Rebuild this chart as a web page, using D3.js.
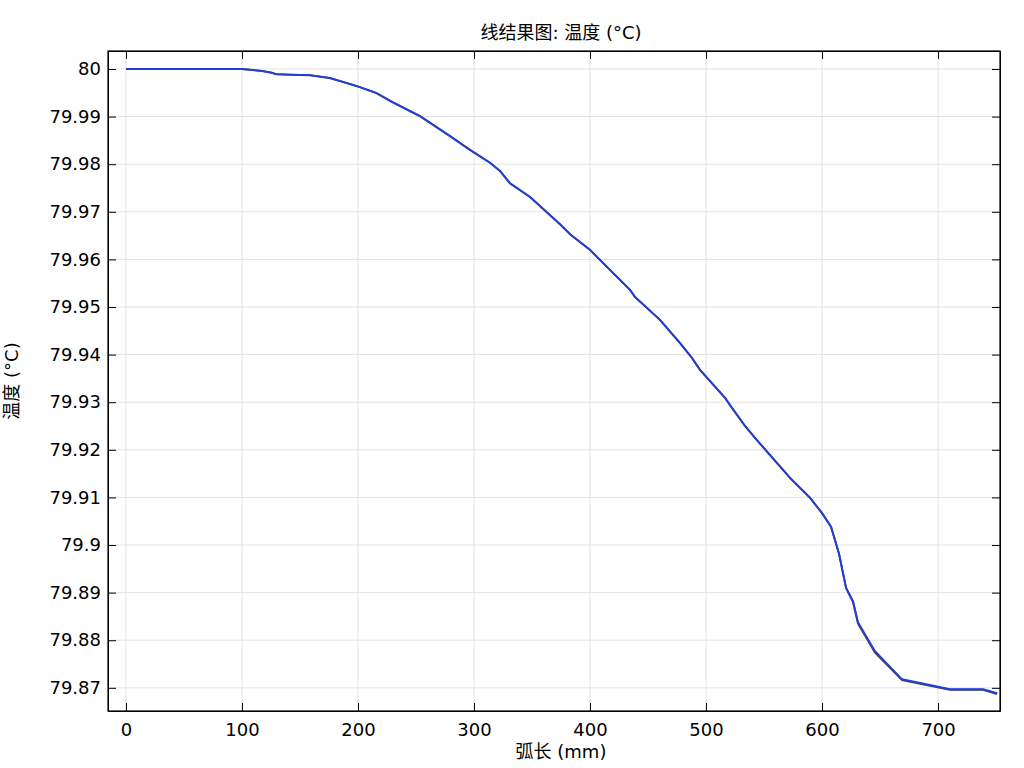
<!DOCTYPE html>
<html>
<head>
<meta charset="utf-8">
<script src="https://cdn.jsdelivr.net/npm/d3@7"></script>
<style>
  body { margin: 0; background: #fff; }
  svg text { font-family: "DejaVu Sans", "Noto Sans CJK SC", sans-serif; fill: #000; }
  .grid line { stroke: #e3e3e3; }
  .axis path, .axis line { stroke: #000; }
</style>
</head>
<body>
<div id="chart"></div>
<script>
// arc length (mm) and temperature (degC)
var arcLen = [0, 100, 108.6, 117.2, 125.9, 129.3, 141.4, 158.6, 175.9, 199.1, 215.5, 229.3,
  253.4, 279.3, 296.6, 313.8, 322.4, 331.0, 348.3, 356.9, 374.1, 382.8, 400.0, 417.2,
  434.5, 438.8, 460.3, 477.6, 487.9, 494.8, 516.4, 522.4, 533.6, 542.2, 555.2, 572.4,
  589.7, 600.0, 607.8, 614.7, 620.7, 626.7, 631.0, 645.7, 669.0, 710.3, 738.8, 750.9];
var tempBlue = [80, 80, 79.9998, 79.9996, 79.9992, 79.9989, 79.9988, 79.9987, 79.9981, 79.9964,
  79.9950, 79.9931, 79.9901, 79.9859, 79.9830, 79.9803, 79.9786, 79.9760, 79.9731, 79.9712,
  79.9674, 79.9653, 79.9620, 79.9578, 79.9536, 79.9521, 79.9473, 79.9424, 79.9393, 79.9368,
  79.9309, 79.9288, 79.9250, 79.9225, 79.9189, 79.9141, 79.9099, 79.9067, 79.9038, 79.8981,
  79.8910, 79.8882, 79.8838, 79.8777, 79.8718, 79.8697, 79.8697, 79.8689];
var tempGray = [80, 80, 79.9998, 79.9996, 79.9992, 79.9989, 79.9988, 79.9987, 79.9981, 79.9964,
  79.9950, 79.9931, 79.9901, 79.9859, 79.9830, 79.9803, 79.9786, 79.9760, 79.9731, 79.9712,
  79.9674, 79.9653, 79.9620, 79.9578, 79.9536, 79.9521, 79.9473, 79.9424, 79.9393, 79.9368,
  79.9309, 79.9288, 79.9250, 79.9225, 79.9189, 79.9141, 79.9099, 79.9067, 79.9038, 79.8981,
  79.8910, 79.8880, 79.8835, 79.8774, 79.8716, 79.8696, 79.8696, 79.8687];
var xTicks = [0, 100, 200, 300, 400, 500, 600, 700];
var yTicks = [80, 79.99, 79.98, 79.97, 79.96, 79.95, 79.94, 79.93, 79.92, 79.91, 79.9, 79.89, 79.88, 79.87];

var width = 1024, height = 768;
var plotL = 108, plotR = 1000, plotT = 51, plotB = 711;

var svg = d3.select("#chart").append("svg")
  .attr("width", width)
  .attr("height", height);

var x = d3.scaleLinear().domain([-15.5, 753.4]).range([plotL, plotR]);
var y = d3.scaleLinear().domain([79.86513, 80.00378]).range([plotB, plotT]);

// grid
var grid = svg.append("g").attr("class", "grid");
grid.selectAll(".gx").data(xTicks).enter().append("line")
  .attr("x1", function(d) { return x(d); }).attr("x2", function(d) { return x(d); })
  .attr("y1", plotT).attr("y2", plotB);
grid.selectAll(".gy").data(yTicks).enter().append("line")
  .attr("y1", function(d) { return y(d); }).attr("y2", function(d) { return y(d); })
  .attr("x1", plotL).attr("x2", plotR);

// lines
var line = d3.line()
  .x(function(d) { return x(d[0]); })
  .y(function(d) { return y(d[1]); });

svg.append("path")
  .datum(d3.zip(arcLen, tempGray))
  .attr("fill", "none")
  .attr("stroke", "#444")
  .attr("stroke-width", 2)
  .attr("d", line);

svg.append("path")
  .datum(d3.zip(arcLen, tempBlue))
  .attr("fill", "none")
  .attr("stroke", "#1f3fe0")
  .attr("stroke-width", 1.8)
  .attr("d", line);

// axes, ticks pointing inward
svg.append("g").attr("class", "axis")
  .attr("transform", "translate(0," + plotB + ")")
  .call(d3.axisBottom(x).tickValues(xTicks).tickSizeInner(-8).tickSizeOuter(0).tickPadding(12))
  .call(function(g) { g.selectAll("text").style("font-size", "18px"); });

svg.append("g").attr("class", "axis")
  .attr("transform", "translate(0," + plotT + ")")
  .call(d3.axisTop(x).tickValues(xTicks).tickSizeInner(-8).tickSizeOuter(0).tickFormat(""));

svg.append("g").attr("class", "axis")
  .attr("transform", "translate(" + plotL + ",0)")
  .call(d3.axisLeft(y).tickValues(yTicks).tickSizeInner(-8).tickSizeOuter(0).tickPadding(7)
    .tickFormat(d3.format("")))
  .call(function(g) { g.selectAll("text").style("font-size", "18px"); });

svg.append("g").attr("class", "axis")
  .attr("transform", "translate(" + plotR + ",0)")
  .call(d3.axisRight(y).tickValues(yTicks).tickSizeInner(-8).tickSizeOuter(0).tickFormat(""));

svg.append("rect")
  .attr("x", plotL).attr("y", plotT)
  .attr("width", plotR - plotL).attr("height", plotB - plotT)
  .attr("fill", "none").attr("stroke", "#000").attr("stroke-width", 1.2);

// titles
svg.append("text")
  .attr("x", (plotL + plotR) / 2 + 7).attr("y", 39)
  .attr("text-anchor", "middle")
  .style("font-size", "18px")
  .text("线结果图: 温度 (°C)");

svg.append("text")
  .attr("x", (plotL + plotR) / 2 + 7).attr("y", 758)
  .attr("text-anchor", "middle")
  .style("font-size", "18px")
  .text("弧长 (mm)");

svg.append("text")
  .attr("transform", "translate(18," + ((plotT + plotB) / 2) + ") rotate(-90)")
  .attr("text-anchor", "middle")
  .style("font-size", "18px")
  .text("温度 (°C)");
</script>
</body>
</html>
